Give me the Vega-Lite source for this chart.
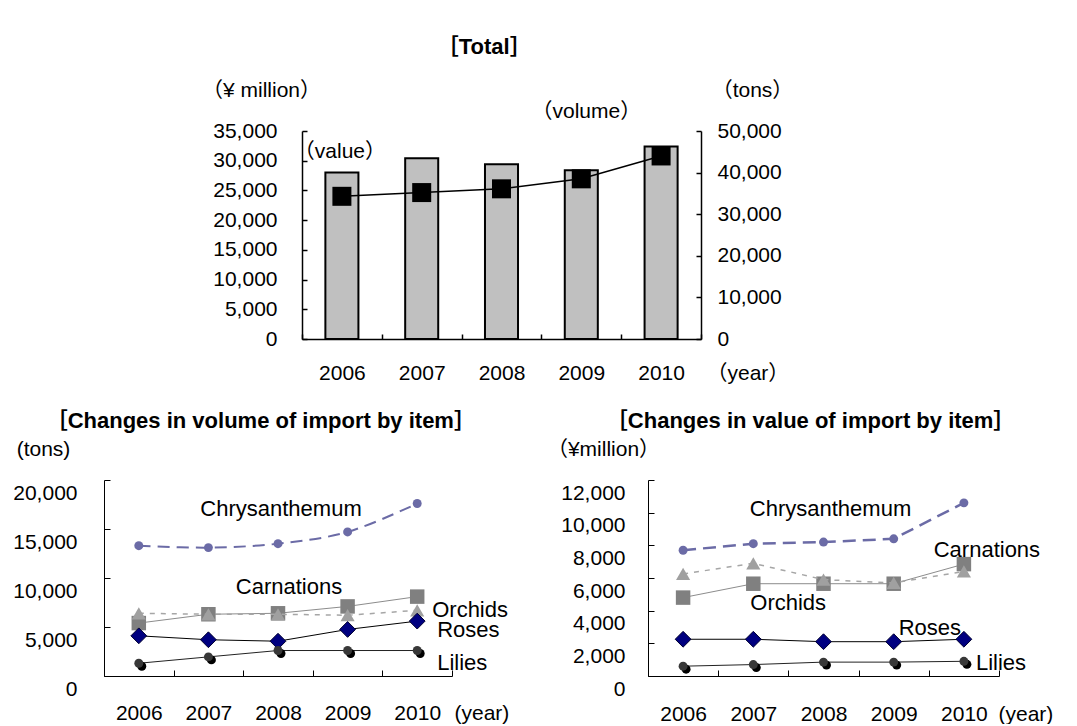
{
  "$schema": "https://vega.github.io/schema/vega-lite/v6.json",
  "background": "white",
  "padding": {"left": 12, "top": 36, "right": 0, "bottom": 0},
  "config": {
    "view": {"stroke": null},
    "font": "Liberation Sans, Arial, Noto Sans CJK JP, sans-serif",
    "axis": {
      "grid": false, "domainColor": "black", "tickColor": "black", "labelColor": "black", "titleColor": "black",
      "labelFontSize": 21, "titleFontSize": 21, "titleFontWeight": "normal", "labelOverlap": false, "labelFlush": false,
      "labelFont": "Liberation Sans, Arial, Noto Sans CJK JP, sans-serif", "titleFont": "Liberation Sans, Arial, Noto Sans CJK JP, sans-serif"
    },
    "title": {"color": "black", "fontWeight": "bold", "fontSize": 22, "font": "Liberation Sans, Arial, Noto Sans CJK JP, sans-serif"},
    "text": {"fontSize": 22, "color": "black", "baseline": "middle"}
  },
  "spacing": 27,
  "vconcat": [
    {
      "spacing": 0,
      "hconcat": [
        {"width": 97, "height": 1, "data": {"values": []}, "mark": "point"},
        {
          "width": 399, "height": 208,
          "title": {"text": "［Total］", "anchor": "middle", "frame": "bounds", "offset": -2, "baseline": "bottom", "fontSize": 22, "dx": -13},
          "data": {"values": [
            {"year": "2006", "value": 28000, "volume": 34300},
            {"year": "2007", "value": 30400, "volume": 35200},
            {"year": "2008", "value": 29400, "volume": 36100},
            {"year": "2009", "value": 28400, "volume": 38500},
            {"year": "2010", "value": 32400, "volume": 44000}
          ]},
          "encoding": {
            "x": {"field": "year", "type": "ordinal", "scale": {"paddingInner": 0, "paddingOuter": 0},
              "axis": {"title": "（year）", "titleX": 404, "titleY": 34, "titleAlign": "left", "titleBaseline": "middle", "titleAngle": 0,
                "labelAngle": 0, "tickBand": "extent", "tickSize": -5, "labelPadding": 39, "labelBaseline": "middle", "domainWidth": 1.5, "tickWidth": 1.5}}
          },
          "layer": [
            {"mark": {"type": "bar", "width": {"band": 0.414}, "fill": "#C0C0C0", "stroke": "black", "strokeWidth": 2},
             "encoding": {"y": {"field": "value", "type": "quantitative", "scale": {"domain": [0, 35000], "nice": false},
               "axis": {"title": "（¥ million）", "titleX": -41, "titleY": -41, "titleAngle": 0, "titleAlign": "center", "titleBaseline": "middle",
                 "values": [0, 5000, 10000, 15000, 20000, 25000, 30000, 35000], "format": ",.0f", "labelOverlap": false, "tickSize": -5, "labelPadding": 30, "domainWidth": 1.5, "tickWidth": 1.5}}}},
            {
              "layer": [
                {"mark": {"type": "line", "color": "black", "strokeWidth": 1.5},
                 "encoding": {"y": {"field": "volume", "type": "quantitative", "scale": {"domain": [0, 50000], "nice": false},
                   "axis": {"orient": "right", "title": "（tons）", "titleX": 51, "titleY": -41, "titleAngle": 0, "titleAlign": "center", "titleBaseline": "middle",
                     "values": [0, 10000, 20000, 30000, 40000, 50000], "format": ",.0f", "labelOverlap": false, "tickSize": -5, "labelPadding": 21, "domainWidth": 1.5, "tickWidth": 1.5}}}},
                {"mark": {"type": "point", "shape": "square", "filled": true, "color": "black", "opacity": 1, "size": 361},
                 "encoding": {"y": {"field": "volume", "type": "quantitative"}}}
              ]
            },
            {
              "data": {"values": [
                {"year": "2006", "amount": 31500, "note": "（value）", "shift": "left"},
                {"year": "2009", "amount": 38200, "note": "（volume）", "shift": "right"}
              ]},
              "encoding": {"y": {"field": "amount", "type": "quantitative", "scale": {"domain": [0, 35000], "nice": false}, "axis": null}, "text": {"field": "note"}},
              "layer": [
                {"transform": [{"filter": "datum.shift === 'left'"}], "mark": {"type": "text", "dx": -2, "fontSize": 21}},
                {"transform": [{"filter": "datum.shift === 'right'"}], "mark": {"type": "text", "dx": 5, "fontSize": 21}}
              ]
            }
          ],
          "resolve": {"scale": {"y": "independent"}}
        }
      ]
    },
    {
      "spacing": 37,
      "hconcat": [
        {
          "width": 348, "height": 196,
          "title": {"text": "［Changes in volume of import by item］", "anchor": "middle", "frame": "bounds", "offset": -17, "baseline": "bottom"},
          "data": {"values": [
            {"item": "Chrysanthemum", "year": "2006", "tons": 13300},
            {"item": "Chrysanthemum", "year": "2007", "tons": 13100},
            {"item": "Chrysanthemum", "year": "2008", "tons": 13500},
            {"item": "Chrysanthemum", "year": "2009", "tons": 14700},
            {"item": "Chrysanthemum", "year": "2010", "tons": 17600},
            {"item": "Carnations", "year": "2006", "tons": 5400},
            {"item": "Carnations", "year": "2007", "tons": 6300},
            {"item": "Carnations", "year": "2008", "tons": 6400},
            {"item": "Carnations", "year": "2009", "tons": 7100},
            {"item": "Carnations", "year": "2010", "tons": 8100},
            {"item": "Orchids", "year": "2006", "tons": 6400},
            {"item": "Orchids", "year": "2007", "tons": 6300},
            {"item": "Orchids", "year": "2008", "tons": 6300},
            {"item": "Orchids", "year": "2009", "tons": 6200},
            {"item": "Orchids", "year": "2010", "tons": 6700},
            {"item": "Roses", "year": "2006", "tons": 4100},
            {"item": "Roses", "year": "2007", "tons": 3700},
            {"item": "Roses", "year": "2008", "tons": 3550},
            {"item": "Roses", "year": "2009", "tons": 4750},
            {"item": "Roses", "year": "2010", "tons": 5600},
            {"item": "Lilies", "year": "2006", "tons": 1300},
            {"item": "Lilies", "year": "2007", "tons": 1950},
            {"item": "Lilies", "year": "2008", "tons": 2600},
            {"item": "Lilies", "year": "2009", "tons": 2600},
            {"item": "Lilies", "year": "2010", "tons": 2600}
          ]},
          "encoding": {
            "x": {"field": "year", "type": "ordinal", "scale": {"paddingInner": 0, "paddingOuter": 0},
              "axis": {"title": "(year)", "titleX": 350, "titleY": 37, "titleAlign": "left", "titleBaseline": "middle", "titleAngle": 0,
                "labelAngle": 0, "tickBand": "extent", "tickSize": -6, "labelPadding": 43, "labelBaseline": "middle"}},
            "y": {"field": "tons", "type": "quantitative", "scale": {"domain": [0, 20000], "nice": false},
              "axis": {"title": "(tons)", "titleX": -61, "titleY": -31, "titleAngle": 0, "titleAlign": "center", "titleBaseline": "middle",
                "values": [0, 5000, 10000, 15000, 20000], "format": ",.0f", "labelOverlap": false, "tickSize": -6, "labelPadding": 33, "labelOffset": 13}}
          },
          "layer": [
            {"transform": [{"filter": "datum.item === 'Chrysanthemum'"}], "mark": {"type": "line", "color": "#6B6BA6", "strokeWidth": 2, "strokeDash": [12, 7], "interpolate": "catmull-rom"}},
            {"transform": [{"filter": "datum.item === 'Chrysanthemum'"}], "mark": {"type": "point", "shape": "circle", "filled": true, "opacity": 1, "color": "#6B6BA6", "size": 80}},
            {"transform": [{"filter": "datum.item === 'Carnations'"}], "mark": {"type": "line", "color": "#8C8C8C", "strokeWidth": 1}},
            {"transform": [{"filter": "datum.item === 'Carnations'"}], "mark": {"type": "point", "shape": "square", "filled": true, "opacity": 1, "color": "#808080", "size": 210}},
            {"transform": [{"filter": "datum.item === 'Orchids'"}], "mark": {"type": "line", "color": "#A6A6A6", "strokeWidth": 1.5, "strokeDash": [5, 6]}},
            {"transform": [{"filter": "datum.item === 'Orchids'"}], "mark": {"type": "point", "shape": "triangle-up", "filled": true, "opacity": 1, "color": "#A0A0A0", "size": 200}},
            {"transform": [{"filter": "datum.item === 'Roses'"}], "mark": {"type": "line", "color": "black", "strokeWidth": 1}},
            {"transform": [{"filter": "datum.item === 'Roses'"}], "mark": {"type": "point", "shape": "diamond", "filled": true, "opacity": 1, "fill": "#000080", "stroke": "#000030", "strokeWidth": 1, "size": 250}},
            {"transform": [{"filter": "datum.item === 'Lilies'"}], "mark": {"type": "line", "color": "#222222", "strokeWidth": 1}},
            {"transform": [{"filter": "datum.item === 'Lilies'"}], "mark": {"type": "point", "shape": "circle", "filled": true, "opacity": 1, "color": "black", "size": 80, "xOffset": 3, "yOffset": 3}},
            {"transform": [{"filter": "datum.item === 'Lilies'"}], "mark": {"type": "point", "shape": "circle", "filled": true, "opacity": 1, "color": "#383838", "size": 80}},
            {"data": {"values": [{"year": "2008", "tons": 17000, "label": "Chrysanthemum"}]}, "mark": {"type": "text", "align": "center", "dx": 3}, "encoding": {"text": {"field": "label"}}},
            {"data": {"values": [{"year": "2008", "tons": 9100, "label": "Carnations"}]}, "mark": {"type": "text", "align": "center", "dx": 11}, "encoding": {"text": {"field": "label"}}},
            {"data": {"values": [{"year": "2010", "tons": 6750, "label": "Orchids"}]}, "mark": {"type": "text", "align": "left", "dx": 15}, "encoding": {"text": {"field": "label"}}},
            {"data": {"values": [{"year": "2010", "tons": 4700, "label": "Roses"}, {"year": "2010", "tons": 1330, "label": "Lilies"}]}, "mark": {"type": "text", "align": "left", "dx": 20}, "encoding": {"text": {"field": "label"}}}
          ]
        },
        {
          "width": 351, "height": 196,
          "title": {"text": "［Changes in value of import by item］", "anchor": "middle", "frame": "bounds", "offset": -17, "baseline": "bottom", "dx": 11},
          "data": {"values": [
            {"item": "Chrysanthemum", "year": "2006", "yen": 7700},
            {"item": "Chrysanthemum", "year": "2007", "yen": 8100},
            {"item": "Chrysanthemum", "year": "2008", "yen": 8200},
            {"item": "Chrysanthemum", "year": "2009", "yen": 8400},
            {"item": "Chrysanthemum", "year": "2010", "yen": 10600},
            {"item": "Carnations", "year": "2006", "yen": 4800},
            {"item": "Carnations", "year": "2007", "yen": 5650},
            {"item": "Carnations", "year": "2008", "yen": 5650},
            {"item": "Carnations", "year": "2009", "yen": 5650},
            {"item": "Carnations", "year": "2010", "yen": 6850},
            {"item": "Orchids", "year": "2006", "yen": 6250},
            {"item": "Orchids", "year": "2007", "yen": 6900},
            {"item": "Orchids", "year": "2008", "yen": 5900},
            {"item": "Orchids", "year": "2009", "yen": 5700},
            {"item": "Orchids", "year": "2010", "yen": 6400},
            {"item": "Roses", "year": "2006", "yen": 2250},
            {"item": "Roses", "year": "2007", "yen": 2250},
            {"item": "Roses", "year": "2008", "yen": 2100},
            {"item": "Roses", "year": "2009", "yen": 2100},
            {"item": "Roses", "year": "2010", "yen": 2250},
            {"item": "Lilies", "year": "2006", "yen": 600},
            {"item": "Lilies", "year": "2007", "yen": 700},
            {"item": "Lilies", "year": "2008", "yen": 850},
            {"item": "Lilies", "year": "2009", "yen": 850},
            {"item": "Lilies", "year": "2010", "yen": 900}
          ]},
          "encoding": {
            "x": {"field": "year", "type": "ordinal", "scale": {"paddingInner": 0, "paddingOuter": 0},
              "axis": {"title": "(year)", "titleX": 350, "titleY": 38, "titleAlign": "left", "titleBaseline": "middle", "titleAngle": 0,
                "labelAngle": 0, "tickBand": "extent", "tickSize": -6, "labelPadding": 44, "labelBaseline": "middle"}},
            "y": {"field": "yen", "type": "quantitative", "scale": {"domain": [0, 12000], "nice": false},
              "axis": {"title": "（¥million）", "titleX": -45, "titleY": -31, "titleAngle": 0, "titleAlign": "center", "titleBaseline": "middle",
                "values": [0, 2000, 4000, 6000, 8000, 10000, 12000], "format": ",.0f", "labelOverlap": false, "tickSize": -6, "labelPadding": 29, "labelOffset": 13}}
          },
          "layer": [
            {"transform": [{"filter": "datum.item === 'Chrysanthemum'"}], "mark": {"type": "line", "color": "#6B6BA6", "strokeWidth": 2.5, "strokeDash": [13, 7]}},
            {"transform": [{"filter": "datum.item === 'Chrysanthemum'"}], "mark": {"type": "point", "shape": "circle", "filled": true, "opacity": 1, "color": "#6B6BA6", "size": 80}},
            {"transform": [{"filter": "datum.item === 'Carnations'"}], "mark": {"type": "line", "color": "#8C8C8C", "strokeWidth": 1}},
            {"transform": [{"filter": "datum.item === 'Carnations'"}], "mark": {"type": "point", "shape": "square", "filled": true, "opacity": 1, "color": "#808080", "size": 210}},
            {"transform": [{"filter": "datum.item === 'Orchids'"}], "mark": {"type": "line", "color": "#A6A6A6", "strokeWidth": 1.5, "strokeDash": [5, 6]}},
            {"transform": [{"filter": "datum.item === 'Orchids'"}], "mark": {"type": "point", "shape": "triangle-up", "filled": true, "opacity": 1, "color": "#A0A0A0", "size": 200}},
            {"transform": [{"filter": "datum.item === 'Roses'"}], "mark": {"type": "line", "color": "black", "strokeWidth": 1}},
            {"transform": [{"filter": "datum.item === 'Roses'"}], "mark": {"type": "point", "shape": "diamond", "filled": true, "opacity": 1, "fill": "#000080", "stroke": "#000030", "strokeWidth": 1, "size": 250}},
            {"transform": [{"filter": "datum.item === 'Lilies'"}], "mark": {"type": "line", "color": "#222222", "strokeWidth": 1}},
            {"transform": [{"filter": "datum.item === 'Lilies'"}], "mark": {"type": "point", "shape": "circle", "filled": true, "opacity": 1, "color": "black", "size": 80, "xOffset": 3, "yOffset": 3}},
            {"transform": [{"filter": "datum.item === 'Lilies'"}], "mark": {"type": "point", "shape": "circle", "filled": true, "opacity": 1, "color": "#383838", "size": 80}},
            {"data": {"values": [{"year": "2008", "yen": 10200, "label": "Chrysanthemum"}]}, "mark": {"type": "text", "align": "center", "dx": 7}, "encoding": {"text": {"field": "label"}}},
            {"data": {"values": [{"year": "2010", "yen": 7700, "label": "Carnations"}]}, "mark": {"type": "text", "align": "center", "dx": 23}, "encoding": {"text": {"field": "label"}}},
            {"data": {"values": [{"year": "2007", "yen": 4500, "label": "Orchids"}]}, "mark": {"type": "text", "align": "left", "dx": -3}, "encoding": {"text": {"field": "label"}}},
            {"data": {"values": [{"year": "2009", "yen": 2950, "label": "Roses"}]}, "mark": {"type": "text", "align": "left", "dx": 5}, "encoding": {"text": {"field": "label"}}},
            {"data": {"values": [{"year": "2010", "yen": 820, "label": "Lilies"}]}, "mark": {"type": "text", "align": "left", "dx": 12}, "encoding": {"text": {"field": "label"}}}
          ]
        }
      ]
    }
  ]
}
